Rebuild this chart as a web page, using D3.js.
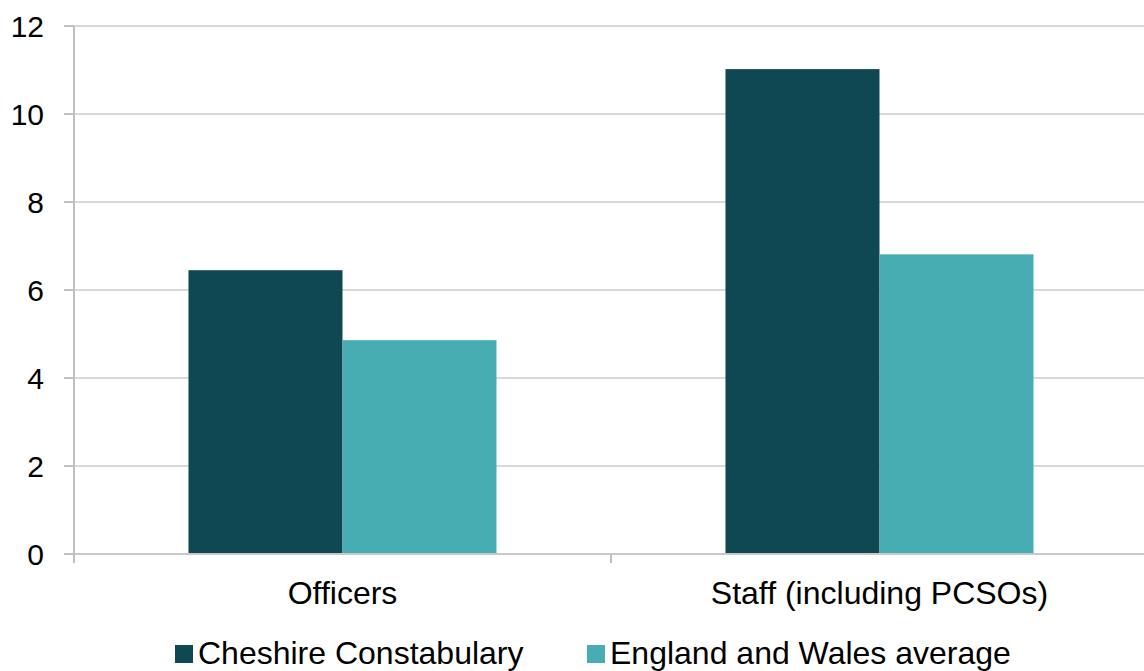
<!DOCTYPE html>
<html>
<head>
<meta charset="utf-8">
<script src="https://cdn.jsdelivr.net/npm/d3@7"></script>
<style>
  html, body { margin: 0; padding: 0; background: #fff; }
  svg { display: block; font-family: "Liberation Sans", Arial, sans-serif; }
</style>
</head>
<body>
<svg id="chart" width="1144" height="671"></svg>
<script>
const categories = ["Officers", "Staff (including PCSOs)"];
const seriesNames = ["Cheshire Constabulary", "England and Wales average"];
const cheshireValues = [6.45, 11.02];
const ewValues = [4.86, 6.81];
const yTicks = [0, 2, 4, 6, 8, 10, 12];
const colors = ["#0f4752", "#48adb2"];

const seriesValues = [cheshireValues, ewValues];
const data = categories.map((c, i) => ({
  cat: c,
  vals: seriesNames.map((s, j) => ({ s, v: seriesValues[j][i], j }))
}));

const svg = d3.select("#chart");
const plotLeft = 74, plotRight = 1148, plotTop = 26, plotBottom = 554;

const x0 = d3.scaleBand().domain(categories).range([plotLeft, plotRight]).padding(0);
const bw = x0.bandwidth();
const outer = bw * 0.2132;
const x1 = d3.scaleBand().domain(seriesNames).range([outer, bw - outer]).padding(0);
const y = d3.scaleLinear().domain([0, 12]).range([plotBottom, plotTop]);

// gridlines
svg.append("g").selectAll("line").data(yTicks.filter(t => t > 0)).join("line")
  .attr("x1", plotLeft - 10).attr("x2", 1144)
  .attr("y1", d => y(d)).attr("y2", d => y(d))
  .attr("stroke", "#d9d9d9").attr("stroke-width", 2);

// bars
const g = svg.append("g").selectAll("g").data(data).join("g")
  .attr("transform", d => `translate(${x0(d.cat)},0)`);
g.selectAll("rect").data(d => d.vals).join("rect")
  .attr("x", d => x1(d.s))
  .attr("width", x1.bandwidth())
  .attr("y", d => y(d.v))
  .attr("height", d => y(0) - y(d.v))
  .attr("fill", d => colors[d.j]);

// y axis line and ticks
svg.append("line").attr("x1", plotLeft).attr("x2", plotLeft).attr("y1", plotTop).attr("y2", plotBottom + 9)
  .attr("stroke", "#bfbfbf").attr("stroke-width", 2);
svg.append("g").selectAll("line").data([0]).join("line")
  .attr("x1", plotLeft - 10).attr("x2", 1144)
  .attr("y1", d => y(d)).attr("y2", d => y(d))
  .attr("stroke", "#c8c8c8").attr("stroke-width", 2);
svg.append("g").selectAll("line").data(yTicks).join("line")
  .attr("x1", plotLeft - 10).attr("x2", plotLeft)
  .attr("y1", d => y(d)).attr("y2", d => y(d))
  .attr("stroke", "#bfbfbf").attr("stroke-width", 2);
// category separator ticks
svg.append("g").selectAll("line").data(categories.slice(1)).join("line")
  .attr("x1", d => x0(d)).attr("x2", d => x0(d))
  .attr("y1", plotBottom).attr("y2", plotBottom + 9)
  .attr("stroke", "#bfbfbf").attr("stroke-width", 2);

// y tick labels
svg.append("g").selectAll("text").data(yTicks).join("text")
  .attr("x", 44).attr("y", d => y(d) + 11)
  .attr("text-anchor", "end")
  .attr("font-size", 30).attr("fill", "#000")
  .text(d => d);

// category labels
svg.append("g").selectAll("text").data(categories).join("text")
  .attr("x", d => x0(d) + bw / 2).attr("y", 604)
  .attr("text-anchor", "middle")
  .attr("font-size", 32).attr("fill", "#000")
  .text(d => d);

// legend
const legendX = [175, 587];
const lg = svg.append("g").selectAll("g").data(seriesNames).join("g")
  .attr("transform", (d, i) => `translate(${legendX[i]},0)`);
lg.append("rect").attr("x", 0).attr("y", 645).attr("width", 18).attr("height", 18)
  .attr("fill", (d, i) => colors[i]);
lg.append("text").attr("x", 23).attr("y", 664)
  .attr("font-size", 32).attr("fill", "#000")
  .text(d => d);
</script>
</body>
</html>
